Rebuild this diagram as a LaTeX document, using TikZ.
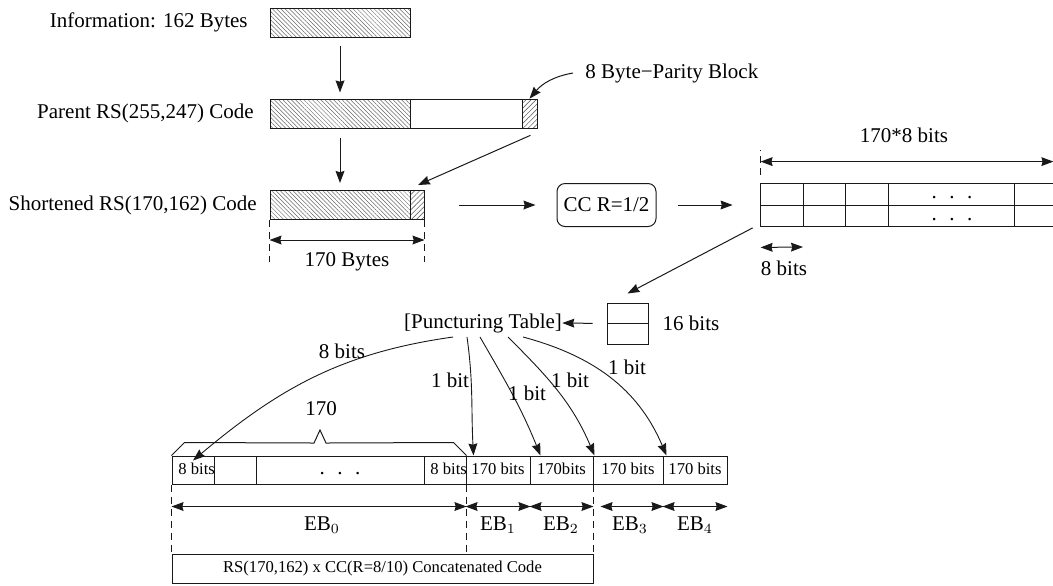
\documentclass[tikz,border=0pt]{standalone}
\usepackage{fontspec}
\setmainfont{Liberation Serif}
\usetikzlibrary{arrows.meta,positioning,calc,patterns.meta}
\definecolor{Ink}{RGB}{25,25,25}
\definecolor{Hatch}{RGB}{105,105,105}
\newcommand\mainfs{\fontsize{10.5pt}{12pt}\selectfont}
\newcommand\smallfs{\fontsize{8.3pt}{10pt}\selectfont}
\newcommand\dotsrow{{\mainfs.\hspace{6.3pt}.\hspace{6.3pt}.}}
\newcommand\ovr[1]{\makebox[21pt][l]{\hspace{3.2pt}#1}}
\tikzset{
  >={Stealth[length=6pt,width=4.4pt,inset=0.6pt]},
  blk/.style={draw=Ink,line width=0.5pt,minimum height=14.5pt,inner sep=0pt},
  dataH/.style={blk,pattern={Lines[angle=-45,distance=1.5pt,line width=0.25pt]},pattern color=Hatch},
  parH/.style={blk,pattern={Lines[angle=45,distance=1.8pt,line width=0.3pt]},pattern color=Hatch},
  lbl/.style={font=\mainfs,inner sep=0pt},
  cell/.style={draw=Ink,line width=0.5pt,minimum height=14pt,inner sep=0pt,font=\smallfs,text height=6pt,text depth=1.7pt},
  rim/.style={line width=0.5pt,draw=Ink},
  flow/.style={->,line width=0.5pt,draw=Ink},
  bitarc/.style={->,line width=0.45pt,draw=Ink},
  dimline/.style={<->,line width=0.5pt,draw=Ink},
  guide/.style={line width=0.5pt,draw=Ink,dash pattern=on 3.5pt off 2.5pt}
}
\begin{document}
\begin{tikzpicture}[x=0.5pt,y=-0.5pt,font=\mainfs]
  \useasboundingbox (0,0) rectangle (1053,585);
  % RS stage
  \node[dataH,minimum width=70pt] (info) at (340,22.5) {};
  \node[lbl,anchor=east] (infoL) at (248,22.5) {Information: 162 Bytes};
  \node[dataH,minimum width=70pt] (pA) at (340,113.5) {};
  \node[blk,minimum width=56pt] (pB) at (466,113.5) {};
  \node[parH,minimum width=7.5pt] (pC) at (529.5,113.5) {};
  \node[lbl,anchor=east] (pL) at (254,113.5) {Parent RS(255,247) Code};
  \node[lbl,anchor=west] (parL) at (585,73) {8 Byte−Parity Block};
  \node[dataH,minimum width=70pt] (sA) at (340,205) {};
  \node[parH,minimum width=7pt] (sB) at (417,205) {};
  \node[lbl,anchor=east] (sL) at (257,205) {Shortened RS(170,162) Code};
  \draw[flow,shorten <=4.5pt,shorten >=3pt] (info) -- (pA);
  \draw[flow,shorten <=4.5pt,shorten >=3.5pt] (pA) -- (sA);
  \draw[flow] ($(parL.west)+(-12,0)$) to[out=190,in=50] (pC.north);
  \draw[flow] ($(pC.south)+(1,7)$) -- ($(sB.north)+(1,-5)$);
  \draw[guide] (sA.south west) -- ++(0,42);
  \draw[guide] (sB.south east) -- ++(0,42);
  \draw[dimline] ($(sA.south west)+(0,20)$) -- ($(sB.south east)+(0,20)$);
  \node[lbl] (sDim) at (347,262) {170 Bytes};
  % CC stage
  \node[blk,rounded corners=4pt,minimum width=49.5pt,minimum height=21.5pt] (cc) at (606.5,205) {CC R=1/2};
  \draw[flow,shorten <=17pt,shorten >=10.5pt] (sB.east) -- (cc.west);
  \node[minimum width=146pt,minimum height=21.5pt,inner sep=0pt] (grid) at (907,205) {};
  \draw[flow,shorten <=10.5pt,shorten >=14pt] (cc.east) -- (grid.west);
  \draw[rim] (grid.north east) -- (grid.north west) -- (grid.south west) -- (grid.south east)
    (grid.west) -- (grid.east);
  \foreach \gx in {803,845,888,1014}
    \draw[rim] (\gx,183.5) -- (\gx,226.5);
  \coordinate (gc1) at (803,226.5);
  \node[inner sep=0pt,anchor=base] (gd1) at (952,198) {\dotsrow};
  \node[inner sep=0pt,anchor=base] (gd2) at (952,220) {\dotsrow};
  \draw[guide] ($(grid.north west)+(0,-8)$) -- ++(0,-25);
  \draw[dimline] ($(grid.north west)+(0,-21.5)$) -- ($(grid.north east)+(0,-21.5)$);
  \node[lbl] (gW) at (904,135) {170*8 bits};
  \draw[dimline] ($(grid.south west)+(0,20.5)$) -- ($(gc1)+(0,20.5)$);
  \node[lbl] (gB) at (784,268) {8 bits};
  % puncturing
  \node[blk,minimum width=20.5pt,minimum height=20.5pt] (sbox) at (627.5,323.5) {};
  \draw[rim] (sbox.west) -- (sbox.east);
  \node[lbl] (sbL) at (691,323) {16 bits};
  \draw[flow] ($(grid.south west)+(-8,1)$) -- ($(sbox.north)+(0,-9)$);
  \node[lbl] (pt) at (483,323) {[Puncturing Table]};
  \draw[flow,shorten <=7pt] (sbox.west) -- (pt.east);
  % output blocks
  \foreach \l/\r/\t [count=\i] in {172/214/{\ovr{8 bits}},214/256/{},256/424/{\dotsrow},424/466/{\ovr{8 bits}},466/530/{170 bits},530/593/{170bits},593/663/{170 bits},663/727/{170 bits}}
    \node[cell,minimum width={(\r-\l)*0.5pt}] (c\i) at ({(\l+\r)/2},470) {\t};
  \draw[rim] (c1.north west) -- ++(13,-13) -- (314,443) -- (320,430) -- (326,443)
    -- ($(c4.north east)+(-13,-13)$) -- (c4.north east);
  \node[lbl] (bN) at (321,409) {170};
  \draw[bitarc] ($(pt.center)+(-30,14)$) to[out=188,in=40] ($(c1.north)+(0,5)$);
  \draw[bitarc] ($(pt.center)+(-16,14)$) to[out=-82,in=93] ($(c5.north west)+(8,0)$);
  \draw[bitarc] ($(pt.center)+(-3,14)$) to[out=-60,in=112] ($(c6.north west)+(11,0)$);
  \draw[bitarc] ($(pt.center)+(25,14)$) to[out=-45,in=113] ($(c7.north west)+(2,0)$);
  \draw[bitarc] ($(pt.center)+(40,14)$) to[out=-15,in=113] ($(c8.north west)+(4,0)$);
  \node[lbl] (lb0) at (342,351) {8 bits};
  \node[lbl] (lb1) at (450,380) {1 bit};
  \node[lbl] (lb2) at (527,393) {1 bit};
  \node[lbl] (lb3) at (570,380) {1 bit};
  \node[lbl] (lb4) at (627,367) {1 bit};
  \foreach \n in {c1.south west,c4.south east,c6.south east}
    \draw[guide] (\n) -- ++(0,70);
  \draw[dimline] ($(c1.south west)+(0,22)$) -- ($(c4.south east)+(0,22)$);
  \draw[dimline] ($(c5.south west)+(0,22)$) -- ($(c5.south east)+(0,22)$);
  \draw[dimline] ($(c6.south west)+(0,22)$) -- ($(c6.south east)+(0,22)$);
  \draw[dimline] ($(c7.south west)+(8,22)$) -- ($(c7.south east)+(0,22)$);
  \draw[dimline] ($(c8.south west)+(0,22)$) -- ($(c8.south east)+(0,22)$);
  \node[lbl] (eb0) at (322,525) {EB$_0$};
  \node[lbl] (eb1) at (498,525) {EB$_1$};
  \node[lbl] (eb2) at (561,525) {EB$_2$};
  \node[lbl] (eb3) at (630,525) {EB$_3$};
  \node[lbl] (eb4) at (695,525) {EB$_4$};
  \node[cell,minimum width=210.5pt,minimum height=14.5pt] (cat) at (382.5,568.5) {RS(170,162) x CC(R=8/10) Concatenated Code};
\end{tikzpicture}
\end{document}
